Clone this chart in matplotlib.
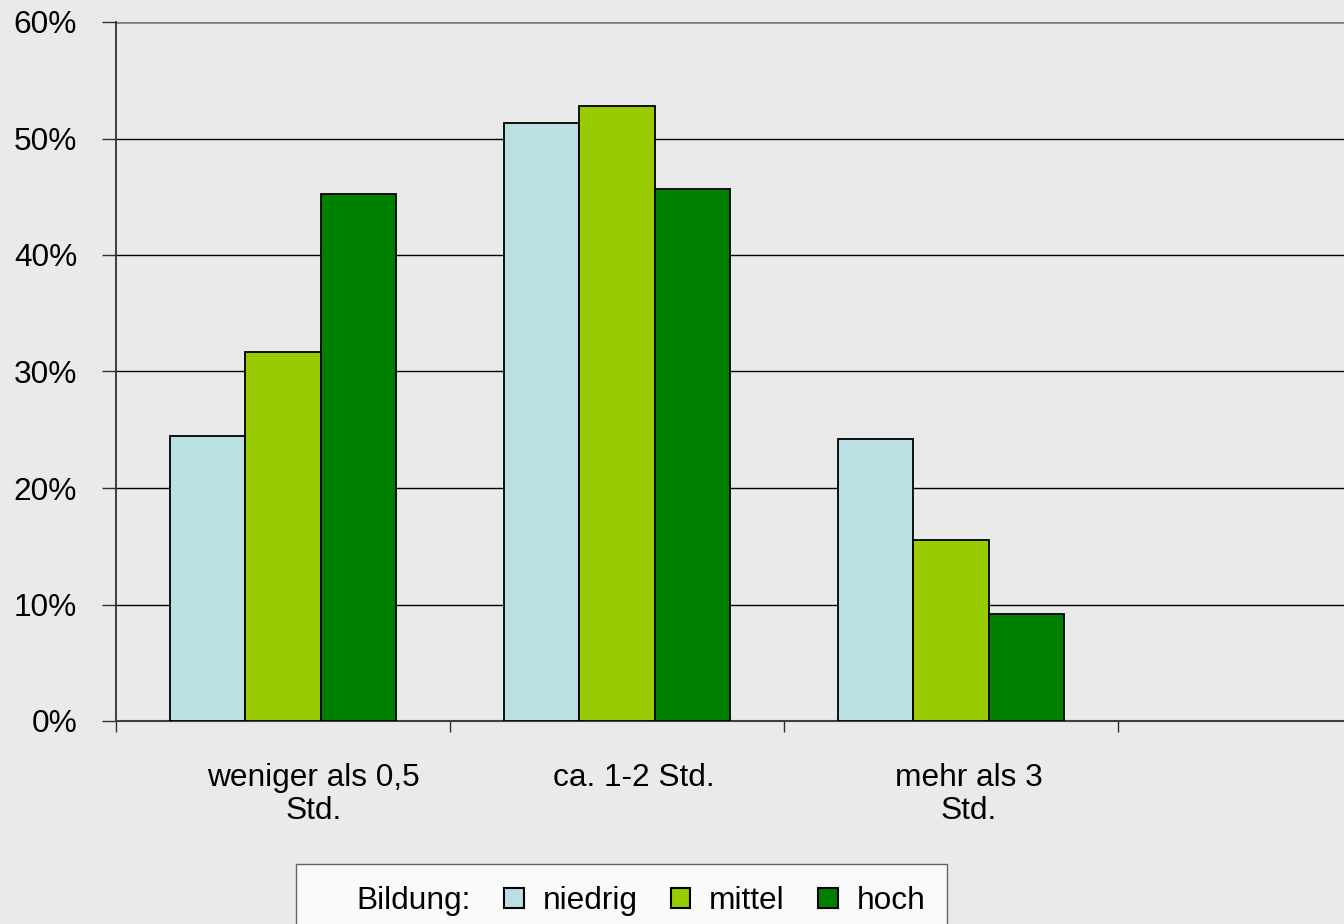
import numpy as np
import matplotlib.pyplot as plt
from matplotlib.patches import Patch
from matplotlib.ticker import FuncFormatter, FixedLocator
import matplotlib.transforms as mtransforms

plt.rcParams['font.family'] = ['Liberation Sans', 'DejaVu Sans']

# Anteile je Nutzungsdauer und Bildungsgruppe
kategorien = ['weniger als 0,5\nStd.', 'ca. 1-2 Std.', 'mehr als 3\nStd.']
gruppen = ['niedrig', 'mittel', 'hoch']
niedrig = [0.245, 0.513, 0.242]
mittel = [0.317, 0.528, 0.155]
hoch = [0.452, 0.457, 0.092]
farben = ['#BBE0E3', '#99CC00', '#008000']

# kleine Verschiebung der Kategorienbeschriftung nach rechts (Punkte)
label_shift = [22, 12, 13]

bg = '#EAEAEA'
fs = 22.8

fig = plt.figure(figsize=(13.44, 9.24), dpi=100, facecolor=bg)
ax = fig.add_axes([116/1344, 1-721/924, 1-116/1344, (721-22)/924])
ax.set_facecolor(bg)

x = np.arange(len(kategorien))
w = 0.225
for i, (werte, farbe, name) in enumerate(zip([niedrig, mittel, hoch], farben, gruppen)):
    ax.bar(x + (i-1)*w, werte, w, color=farbe, edgecolor='black', linewidth=1.3, label=name, zorder=3)

ax.set_ylim(0, 0.6)
ax.set_xlim(-0.5, -0.5 + 1228/334)

# Gitterlinien
ax.set_yticks(np.arange(0, 0.61, 0.1))
for y in np.arange(0.1, 0.51, 0.1):
    ax.axhline(y, color='black', linewidth=1.0, zorder=1)
ax.axhline(0.6, color='#808080', linewidth=2.0, zorder=1)

ax.yaxis.set_major_formatter(FuncFormatter(lambda v, p: '{:.0f}%'.format(v*100)))
ax.tick_params(axis='y', direction='out', length=10, width=1, color='#303030',
               labelsize=fs, pad=18)

ax.xaxis.set_major_locator(FixedLocator(np.arange(-0.5, 4, 1.0)))
ax.tick_params(axis='x', direction='out', length=8, width=1, color='#303030', labelbottom=False)

for s in ['top', 'right']:
    ax.spines[s].set_visible(False)
ax.spines['left'].set_color('#303030')
ax.spines['bottom'].set_color('#404040')
ax.spines['left'].set_linewidth(1.3)
ax.spines['bottom'].set_linewidth(1.5)

# Kategorienbeschriftung
trans = mtransforms.blended_transform_factory(ax.transData, ax.transAxes)
for i, txt in enumerate(kategorien):
    off = mtransforms.ScaledTranslation(label_shift[i]/72, 0, fig.dpi_scale_trans)
    ax.text(x[i], -0.06, txt, transform=trans + off, ha='center', va='top',
            fontsize=fs, multialignment='center', linespacing=1.12)

# Legende mit Vorspann "Bildung:"
handles = [Patch(facecolor='none', edgecolor='none', label='Bildung:')]
for farbe, name in zip(farben, gruppen):
    handles.append(Patch(facecolor=farbe, edgecolor='black', linewidth=1.5, label=name))
leg = fig.legend(handles=handles, loc='upper left', bbox_to_anchor=(296/1344, 1-864/924),
                 ncol=4, fontsize=fs, frameon=True, fancybox=False,
                 handlelength=0.62, handleheight=0.62, handletextpad=0.6,
                 columnspacing=1.04, borderpad=0.7, borderaxespad=0)
leg.get_frame().set_facecolor('white')
leg.get_frame().set_edgecolor('#404040')
leg.get_frame().set_linewidth(1.0)

fig.savefig('out.png', dpi=100, facecolor=bg)
